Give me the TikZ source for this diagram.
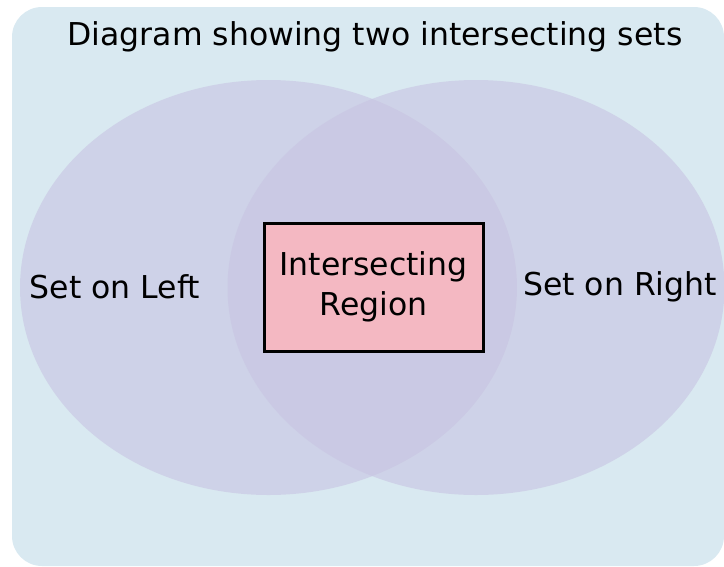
\documentclass[tikz,border=0pt]{standalone}
\usepackage{fontspec}
\setmainfont{DejaVu Sans}
\definecolor{bgc}{HTML}{D9E9F1}
\definecolor{setc}{HTML}{C8C4E2}
\definecolor{boxc}{HTML}{F4B8C2}
\begin{document}
\begin{tikzpicture}[x=1pt,y=-1pt,
  setlabel/.style={font=\fontsize{31.5}{36}\selectfont, text=black},
  setshape/.style={fill=setc, fill opacity=0.6, draw=none},
  regionbox/.style={draw=black, line width=3pt, fill=boxc, minimum width=219pt, minimum height=128pt, align=center, font=\fontsize{31.5}{40}\selectfont, inner sep=0pt}]
\useasboundingbox (0,0) rectangle (724,566);
\fill[bgc, rounded corners=30pt] (12,7) rectangle (724,566);
\node[setlabel] (title) at (375,37) {Diagram showing two intersecting sets};
\fill[setshape] (268.5,287.5) ellipse [x radius=248.5, y radius=207.5];
\fill[setshape] (476,287.5) ellipse [x radius=248.5, y radius=207.5];
\node[setlabel] (left) at (115,287) {Set on Left};
\node[setlabel] (right) at (620,287) {Set on Right};
\node[regionbox] (mid) at (373.5,287) {Intersecting\\Region};
\end{tikzpicture}
\end{document}
